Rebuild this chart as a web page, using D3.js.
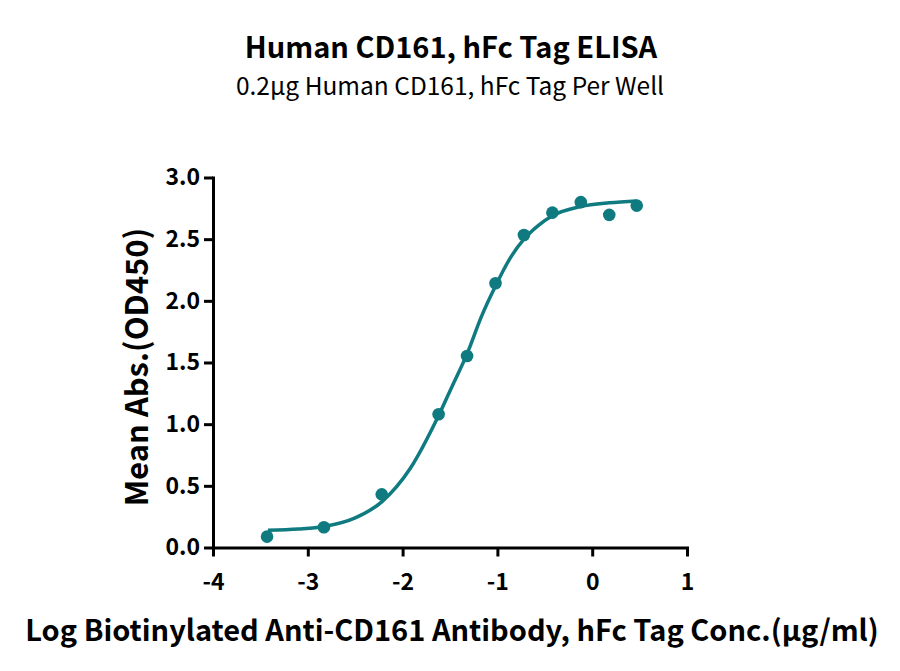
<!DOCTYPE html>
<html>
<head>
<meta charset="utf-8">
<script src="https://cdn.jsdelivr.net/npm/d3@7"></script>
<style>
  body { margin: 0; background: #fff; }
  svg { font-family: "Noto Sans CJK SC", "Noto Sans", sans-serif; }
  .axis path, .axis line { stroke: #000; stroke-width: 3px; }
  .axis text { font-family: "Noto Sans CJK SC", "Noto Sans", sans-serif; font-size: 23px; font-weight: bold; fill: #000; }
</style>
</head>
<body>
<svg width="900" height="671"></svg>
<script>
// measured points: log conc vs mean OD450
const logConc = [-3.43, -2.83, -2.22, -1.62, -1.32, -1.02, -0.72, -0.42, -0.12, 0.18, 0.47];
const meanAbs = [0.088, 0.164, 0.431, 1.08, 1.553, 2.143, 2.534, 2.715, 2.80, 2.697, 2.772];

// fitted curve
const fitX = [-3.42, -3.10, -2.83, -2.50, -2.22, -1.92, -1.62, -1.47, -1.32, -1.17, -1.02, -0.87, -0.72, -0.57, -0.42, -0.12, 0.18, 0.47];
const fitY = [0.14, 0.15, 0.17, 0.24, 0.37, 0.64, 1.07, 1.32, 1.57, 1.87, 2.12, 2.34, 2.50, 2.61, 2.69, 2.765, 2.795, 2.81];

const xTicks = [-4, -3, -2, -1, 0, 1];
const yTicks = [0, 0.5, 1.0, 1.5, 2.0, 2.5, 3.0];

const teal = "#0f7b80";

const svg = d3.select("svg");

const x = d3.scaleLinear().domain([-4, 1]).range([213, 687]);
const y = d3.scaleLinear().domain([0, 3]).range([547.5, 177.5]);

svg.append("g")
    .attr("class", "axis")
    .attr("transform", "translate(0,547.5)")
    .call(d3.axisBottom(x).tickValues(xTicks).tickFormat(d => String(d)).tickSize(9).tickSizeOuter(0).tickPadding(17));

svg.append("g")
    .attr("class", "axis")
    .attr("transform", "translate(213,0)")
    .call(d3.axisLeft(y).tickValues(yTicks).tickFormat(d => d.toFixed(1)).tickSize(9).tickSizeOuter(0).tickPadding(4));

svg.selectAll(".axis path").attr("stroke-linecap", "square");

const line = d3.line()
    .x(d => x(d[0]))
    .y(d => y(d[1]))
    .curve(d3.curveMonotoneX);

svg.append("path")
    .datum(d3.zip(fitX, fitY))
    .attr("d", line)
    .attr("fill", "none")
    .attr("stroke", teal)
    .attr("stroke-width", 3.5);

svg.selectAll(".dot")
    .data(d3.zip(logConc, meanAbs))
    .enter()
    .append("circle")
    .attr("class", "dot")
    .attr("cx", d => x(d[0]))
    .attr("cy", d => y(d[1]))
    .attr("r", 6.3)
    .attr("fill", teal);

svg.append("text")
    .attr("x", 451).attr("y", 58)
    .attr("text-anchor", "middle")
    .attr("font-size", 29).attr("font-weight", "bold")
    .text("Human CD161, hFc Tag ELISA");

svg.append("text")
    .attr("x", 450).attr("y", 95)
    .attr("text-anchor", "middle")
    .attr("font-size", 24.5)
    .text("0.2μg Human CD161, hFc Tag Per Well");

svg.append("text")
    .attr("transform", "translate(148,367) rotate(-90)")
    .attr("text-anchor", "middle")
    .attr("font-size", 31).attr("font-weight", "bold")
    .text("Mean Abs.(OD450)");

svg.append("text")
    .attr("x", 452).attr("y", 641)
    .attr("text-anchor", "middle")
    .attr("font-size", 29).attr("font-weight", "bold")
    .text("Log Biotinylated Anti-CD161 Antibody, hFc Tag Conc.(μg/ml)");
</script>
</body>
</html>
